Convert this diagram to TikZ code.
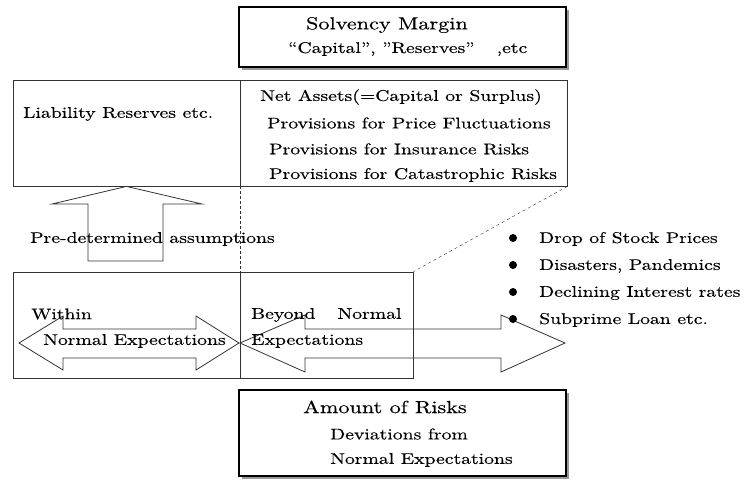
\documentclass[tikz,border=0pt]{standalone}
\usepackage{fontspec}
\setmainfont{lmroman10-regular.otf}[FakeStretch=1.27,FakeBold=0.3]
\usetikzlibrary{positioning,calc,shadows}

\begin{document}
\begin{tikzpicture}[x=1pt,y=-1pt,line join=miter,
	txt/.style={anchor=west,inner sep=0pt,font=\fontsize{15.5}{18}\selectfont},
	head/.style={anchor=center,inner sep=0pt,font=\fontsize{17.5}{21}\selectfont},
	thinbox/.style={draw=black!80,line width=0.8pt,inner sep=0pt},
	thickbox/.style={draw,line width=2.6pt,fill=white,inner sep=0pt,
		drop shadow={shadow xshift=2.5pt,shadow yshift=-2.5pt,fill=black!50,opacity=0.8}},
	hollow/.style={draw=black!80,line width=0.8pt},
	dot/.style={circle,fill=black,inner sep=0pt,minimum size=8pt}]

\useasboundingbox (0,0) rectangle (744,480);

% solvency margin
\node[thickbox,minimum width=327pt,minimum height=60pt] (solv) at (402.5,37) {};
\node[head] (solvtitle) at (387,25) {Solvency Margin};
\node[txt] (solvsub) at (288,49) {“Capital”, ”Reserves”\quad\ ,etc};

% reserves and net assets
\node[thinbox,minimum width=227pt,minimum height=106pt] (liab) at (126.5,133) {};
\node[thinbox,minimum width=327pt,minimum height=106pt] (net) at (403.5,133) {};
\node[txt] (liabtxt) at (23,114) {Liability Reserves etc.};
\node[txt] (net1) at (260,97) {Net Assets(=Capital or Surplus)};
\node[txt] (net2) at (267,123) {Provisions for Price Fluctuations};
\node[txt] (net3) at (269,149) {Provisions for Insurance Risks};
\node[txt] (net4) at (269,175) {Provisions for Catastrophic Risks};

% risks within / beyond
\node[thinbox,minimum width=227pt,minimum height=106pt] (within) at (126.5,325) {};
\node[thinbox,minimum width=173pt,minimum height=106pt] (beyond) at (326.5,325) {};

\draw[black!80,densely dashed] (liab.south east) -- (within.north east);
\draw[black!80,dashed] (net.south east) -- (beyond.north east);

% up arrow
\draw[hollow] (liab.south) -- (202,204) -- (163,204) -- (163,261)
	-- (88,261) -- (88,204) -- (52,204) -- cycle;
\node[txt] (assume) at (30,239) {Pre-determined assumptions};

% double arrows
\draw[hollow] (19,343) -- (63,316) -- (63,329) -- (196,329) -- (196,316)
	-- (239,343) -- (196,370) -- (196,358) -- (63,358) -- (63,370) -- cycle;
\draw[hollow] (240,343) -- (305,315) -- (305,329) -- (501,329) -- (501,315)
	-- (565,343) -- (501,372) -- (501,358) -- (305,358) -- (305,372) -- cycle;

\node[txt] (within1) at (31,314) {Within};
\node[txt] (within2) at (43,341) {Normal Expectations};
\node[txt] (beyond1) at (251,315) {Beyond\quad\ Normal};
\node[txt] (beyond2) at (251,341) {Expectations};

% causes
\foreach \i/\t in {0/Drop of Stock Prices,1/{Disasters, Pandemics},
		2/Declining Interest rates,3/Subprime Loan etc.}{
	\node[dot] (d\i) at (513,238+27*\i) {};
	\node[txt] (c\i) at (539,239+27*\i) {\t};
}

% amount of risks
\node[thickbox,minimum width=327pt,minimum height=86pt] (amount) at (402.5,433) {};
\node[head] (amttitle) at (385,407) {Amount of Risks};
\node[txt] (amt1) at (330,434) {Deviations from};
\node[txt] (amt2) at (330,460) {Normal Expectations};

\end{tikzpicture}
\end{document}
